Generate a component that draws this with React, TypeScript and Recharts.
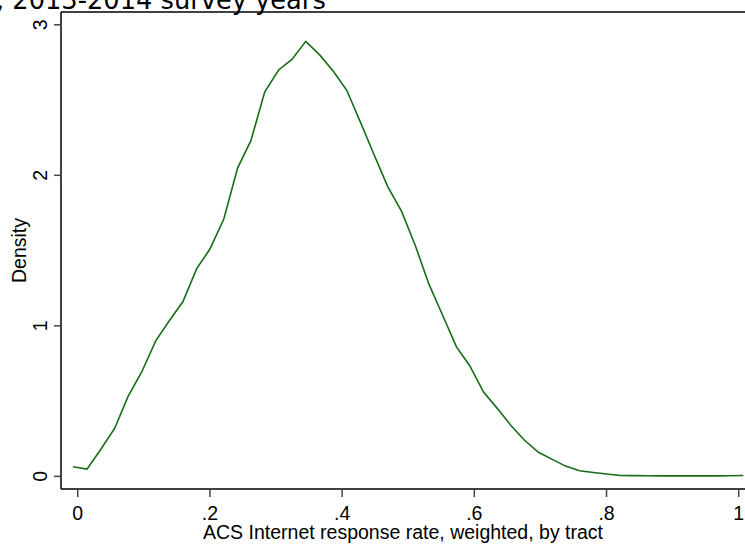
import { LineChart, Line, XAxis, YAxis, ReferenceLine } from 'recharts';

// kernel density estimate (50 evaluation points)
const rate = [
  -0.007, 0.014, 0.035, 0.056, 0.076, 0.097, 0.118, 0.138, 0.159, 0.18,
  0.2, 0.221, 0.242, 0.262, 0.283, 0.304, 0.324, 0.345, 0.366, 0.387,
  0.407, 0.428, 0.449, 0.469, 0.49, 0.511, 0.531, 0.552, 0.573, 0.593,
  0.614, 0.635, 0.655, 0.676, 0.697, 0.718, 0.738, 0.759, 0.78, 0.8,
  0.821, 0.842, 0.862, 0.883, 0.904, 0.924, 0.945, 0.966, 0.986, 1.007,
];
const density = [
  0.064, 0.048, 0.18, 0.32, 0.53, 0.695, 0.9, 1.03, 1.16, 1.38,
  1.51, 1.71, 2.05, 2.23, 2.555, 2.7, 2.77, 2.89, 2.8, 2.69,
  2.565, 2.35, 2.13, 1.925, 1.76, 1.53, 1.28, 1.07, 0.86, 0.735,
  0.56, 0.45, 0.34, 0.24, 0.16, 0.113, 0.068, 0.037, 0.026, 0.016,
  0.006, 0.005, 0.004, 0.003, 0.003, 0.003, 0.003, 0.003, 0.004, 0.006,
];

const xTicks = [0, 0.2, 0.4, 0.6, 0.8, 1];
const xTickLabels = ['0', '.2', '.4', '.6', '.8', '1'];
const yTicks = [0, 1, 2, 3];
const yTickLabels = ['0', '1', '2', '3'];

const titleText = ', 2013-2014 survey years';
const xTitle = 'ACS Internet response rate, weighted, by tract';
const yTitle = 'Density';

const data = rate.map((r, i) => ({ rate: r, density: density[i] }));

const FONT = '"Liberation Sans", Arial, sans-serif';
const X_DOMAIN = [-0.0253, 1.0095];
const Y_DOMAIN = [-0.084, 3.085];

const XTick = ({ x, payload }: any) => {
  const i = xTicks.indexOf(payload.value);
  return (
    <text x={x} y={520} textAnchor="middle" fontSize={19.5} fontFamily={FONT} fill="#000">
      {xTickLabels[i]}
    </text>
  );
};

const YTick = ({ y, payload }: any) => {
  const i = yTicks.indexOf(payload.value);
  return (
    <text
      x={47}
      y={y}
      transform={`rotate(-90, 47, ${y})`}
      textAnchor="middle"
      fontSize={19.5}
      fontFamily={FONT}
      fill="#000"
    >
      {yTickLabels[i]}
    </text>
  );
};

export default function App() {
  return (
    <div
      style={{
        position: 'absolute',
        left: 0,
        top: 0,
        width: 745,
        height: 544,
        overflow: 'hidden',
        background: '#fff',
      }}
    >
      <LineChart width={745} height={544} data={data} margin={{ top: 12, right: 0, bottom: 0, left: 0 }}>
        <XAxis
          dataKey="rate"
          type="number"
          domain={X_DOMAIN}
          allowDataOverflow
          ticks={xTicks}
          height={55}
          tickSize={8}
          axisLine={{ stroke: '#000', strokeWidth: 1.5 }}
          tickLine={{ stroke: '#444', strokeWidth: 1.5 }}
          tick={<XTick />}
          label={{
            value: xTitle,
            position: 'insideBottom',
            offset: 5,
            fontSize: 19.5,
            fontFamily: FONT,
            fill: '#000',
          }}
        />
        <YAxis
          type="number"
          domain={Y_DOMAIN}
          allowDataOverflow
          ticks={yTicks}
          width={61}
          tickSize={7}
          axisLine={{ stroke: '#000', strokeWidth: 1.5 }}
          tickLine={{ stroke: '#444', strokeWidth: 1.5 }}
          tick={<YTick />}
          label={{
            value: yTitle,
            position: 'center',
            angle: -90,
            dx: -11.5,
            fontSize: 19.5,
            fontFamily: FONT,
            fill: '#000',
          }}
        />
        {/* top frame of the plot region */}
        <ReferenceLine y={Y_DOMAIN[1]} stroke="#000" strokeWidth={1.5} />
        <Line
          type="linear"
          dataKey="density"
          stroke="#156d15"
          strokeWidth={1.6}
          dot={false}
          isAnimationActive={false}
        />
      </LineChart>
      <div
        style={{
          position: 'absolute',
          left: -4,
          top: -12,
          fontFamily: '"DejaVu Sans", sans-serif',
          fontSize: 25.7,
          lineHeight: '25.7px',
          whiteSpace: 'nowrap',
          color: '#000',
        }}
      >
        {titleText}
      </div>
    </div>
  );
}
